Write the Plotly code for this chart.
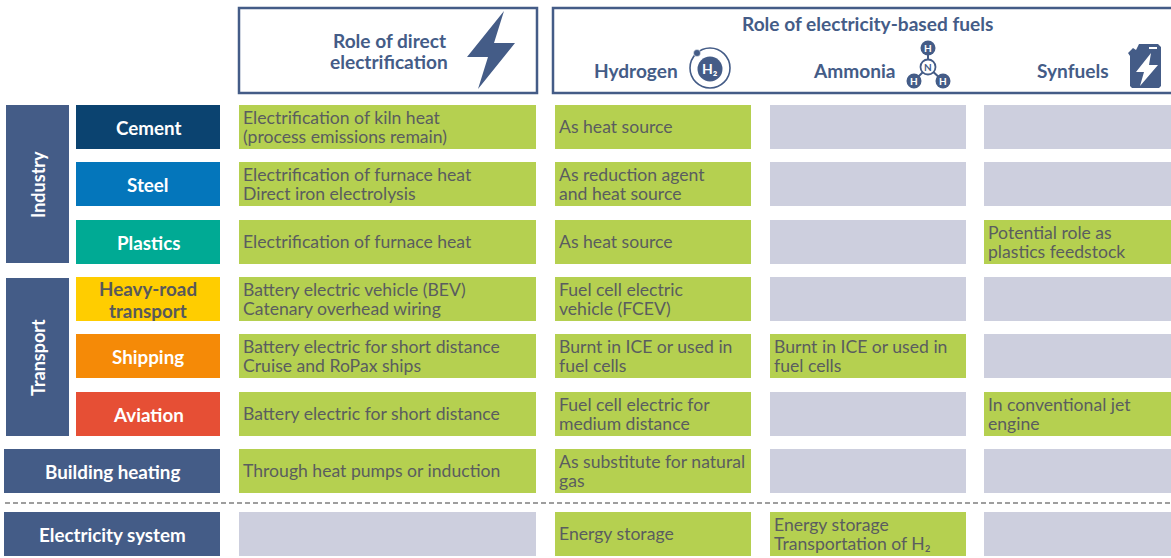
import plotly.graph_objects as go

# ---------- data ----------
sectors = ["Cement", "Steel", "Plastics", "Heavy-road\ntransport", "Shipping", "Aviation",
           "Building heating", "Electricity system"]
direct_role = [
    "Electrification of kiln heat\n(process emissions remain)",
    "Electrification of furnace heat\nDirect iron electrolysis",
    "Electrification of furnace heat",
    "Battery electric vehicle (BEV)\nCatenary overhead wiring",
    "Battery electric for short distance\nCruise and RoPax ships",
    "Battery electric for short distance",
    "Through heat pumps or induction",
    None,
]
hydrogen_role = [
    "As heat source",
    "As reduction agent\nand heat source",
    "As heat source",
    "Fuel cell electric\nvehicle (FCEV)",
    "Burnt in ICE or used in\nfuel cells",
    "Fuel cell electric for\nmedium distance",
    "As substitute for natural\ngas",
    "Energy storage",
]
ammonia_role = [None, None, None, None, "Burnt in ICE or used in\nfuel cells", None, None,
                "Energy storage\nTransportation of H₂"]
synfuel_role = [None, None, "Potential role as\nplastics feedstock", None, None,
                "In conventional jet\nengine", None, None]
roles = [direct_role, hydrogen_role, ammonia_role, synfuel_role]
groups = ["Industry", "Transport"]
header_direct = "Role of direct\nelectrification"
header_fuels = "Role of electricity-based fuels"
fuels = ["Hydrogen", "Ammonia", "Synfuels"]

# ---------- layout constants ----------
W, H = 1171, 558
ROWS = [(105, 149), (162, 206), (220, 264), (277, 321), (334, 378), (392, 436), (449, 493), (512, 556)]
COLS = [(239, 536), (555, 751), (770, 966), (984, 1171)]
LABEL_X = [(76, 220)] * 6 + [(4, 220)] * 2
LABEL_COLORS = ["#0B4370", "#0476BB", "#00AA94", "#FFCD00", "#F58A07", "#E64F35", "#445C87", "#445C87"]
LABEL_TEXT = ["#FFFFFF"] * 3 + ["#58595B"] + ["#FFFFFF"] * 4
GROUP_BOX = [(6, 69, 105, 263), (6, 69, 278, 436)]
NAVY, GREEN, GREY, TXT = "#445C87", "#B5D050", "#CDCFDE", "#5A5D5F"
FONT = "Lato"
CELL_SIZE = 17.6
LABEL_SIZE = 18.8
HEAD_SIZE = 19.1
LINE_H = 19


def bar(x0, x1, y0, y1, color):
    return go.Bar(orientation="h", base=[x0], x=[x1 - x0], y=[(y0 + y1) / 2], width=[y1 - y0],
                  marker=dict(color=color, line=dict(width=0)), hoverinfo="skip", showlegend=False)


fig = go.Figure()
annotations = []


def text(s, x, y, size, color, anchor="center", bold=False, angle=0, lh=LINE_H):
    lines = s.split("\n")
    for i, ln in enumerate(lines):
        yy = y + (i - (len(lines) - 1) / 2) * lh
        annotations.append(dict(x=x, y=yy, xref="x", yref="y", text=f"<b>{ln}</b>" if bold else ln,
                                showarrow=False, xanchor=anchor, yanchor="middle", textangle=angle,
                                font=dict(family=FONT, size=size, color=color), align=anchor))


# group boxes
for g, (x0, x1, y0, y1) in zip(groups, GROUP_BOX):
    fig.add_trace(bar(x0, x1, y0, y1, NAVY))
    text(g, 38, (y0 + y1) / 2 + 1, 18, "#FFFFFF", bold=True, angle=-90)

# rows
for i, s in enumerate(sectors):
    y0, y1 = ROWS[i]
    x0, x1 = LABEL_X[i]
    fig.add_trace(bar(x0, x1, y0, y1, LABEL_COLORS[i]))
    text(s, (x0 + x1) / 2, (y0 + y1) / 2, LABEL_SIZE, LABEL_TEXT[i], bold=True, lh=22)
    for (cx0, cx1), role in zip(COLS, roles):
        v = role[i]
        fig.add_trace(bar(cx0, cx1, y0, y1, GREEN if v else GREY))
        if v:
            text(v, cx0 + 2, (y0 + y1) / 2 - 0.5, CELL_SIZE, TXT, anchor="left")

# headers
shapes = [
    dict(type="rect", x0=239, x1=537, y0=8, y1=93, line=dict(color=NAVY, width=2.5)),
    dict(type="rect", x0=553, x1=1185, y0=8, y1=93, line=dict(color=NAVY, width=2.5)),
    dict(type="line", x0=5, x1=1171, y0=503, y1=503, line=dict(color="#7F7F7F", width=1.5, dash="5px,3px")),
]
text(header_direct, 389, 50.5, HEAD_SIZE, NAVY, bold=True, lh=21)
text(header_fuels, 867, 23.5, HEAD_SIZE, NAVY, bold=True)
for f, x in zip(fuels, (636, 854, 1073)):
    text(f, x, 70.5, HEAD_SIZE, NAVY, bold=True)


def poly(pts, color):
    d = "M " + " L ".join(f"{x},{y}" for x, y in pts) + " Z"
    return dict(type="path", path=d, fillcolor=color, line=dict(width=0))


def circle(cx, cy, rx, ry=None, fill=None, line=None, lw=2):
    ry = ry or rx
    return dict(type="circle", x0=cx - rx, x1=cx + rx, y0=cy - ry, y1=cy + ry,
                fillcolor=fill or "rgba(0,0,0,0)",
                line=dict(color=line or "rgba(0,0,0,0)", width=lw if line else 0))


# lightning icon
shapes.append(poly([(504, 11), (467, 57), (488, 57), (478, 89), (515, 43), (494, 43)], NAVY))
# hydrogen icon
shapes += [circle(710, 68, 20, 20, None, NAVY, 1.6), circle(710, 69, 12.5, 12.5, NAVY),
           circle(697, 53, 3.5, 3.5, NAVY, "#FFFFFF", 0.5)]
text("H₂", 710, 68.5, 14, "#FFFFFF", bold=True)
# ammonia icon
for x, y in ((928, 48), (914, 81), (943, 81)):
    shapes.append(dict(type="line", x0=928, y0=67, x1=x, y1=y, line=dict(color=NAVY, width=2)))
shapes.append(circle(928, 67, 7.5, 7.5, "#FFFFFF", NAVY, 1.8))
for x, y in ((928, 48), (914, 81), (943, 81)):
    shapes.append(circle(x, y, 7.5, 7.5, NAVY))
    text("H", x, y, 10, "#FFFFFF", bold=True)
text("N", 928, 67, 10, NAVY, bold=True)
# fuel can icon
shapes.append(poly([(1139, 44), (1158, 44), (1161, 47), (1161, 86), (1159, 88), (1132, 88), (1130, 86),
                    (1130, 56), (1128, 53), (1133, 48), (1136, 50)], NAVY))
shapes.append(poly([(1151, 53), (1136, 72), (1144, 72), (1140, 86), (1158, 65), (1149, 65)], "#FFFFFF"))
shapes.append(dict(type="rect", x0=1149, x1=1157, y0=47, y1=49, fillcolor="#FFFFFF", line=dict(width=0)))

fig.update_layout(
    width=W, height=H, margin=dict(l=0, r=0, t=0, b=0), paper_bgcolor="#FFFFFF", plot_bgcolor="#FFFFFF",
    barmode="overlay", showlegend=False,
    xaxis=dict(range=[0, W], visible=False, fixedrange=True),
    yaxis=dict(range=[H, 0], visible=False, fixedrange=True),
    shapes=shapes, annotations=annotations,
)
fig.write_html("out.html", config=dict(displayModeBar=False),
               post_script="document.body.style.margin='0';document.documentElement.style.overflow='hidden';")
